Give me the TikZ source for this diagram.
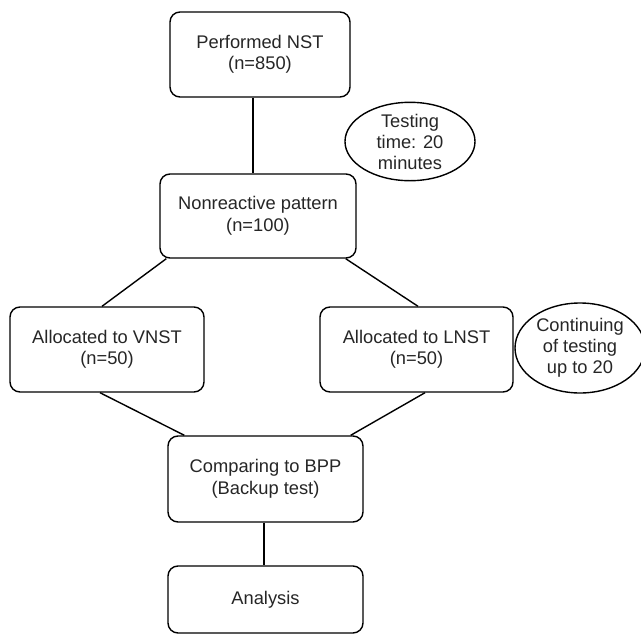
\documentclass[tikz,border=0pt]{standalone}
\usepackage{fontspec}
\setmainfont{Liberation Sans}
\usetikzlibrary{shapes.geometric}
\begin{document}
\begin{tikzpicture}[x=1pt,y=-1pt,
  stepbox/.style={draw=black, line width=1.4pt, rounded corners=10pt, align=center, inner sep=0pt, text=black!85,
    font=\fontsize{18.3}{21.5}\selectfont},
  noteell/.style={draw=black, line width=1.4pt, ellipse, align=center, inner sep=0pt, text=black!85,
    font=\fontsize{18.3}{21}\selectfont},
  conn/.style={line width=1.4pt, draw=black}]
\useasboundingbox (0,0) rectangle (641,635);
\fill[white] (0,0) rectangle (641,635);
\node[stepbox, minimum width=180pt, minimum height=85pt] (b1) at (260,54.5) {Performed NST\\(n=850)};
\node[stepbox, minimum width=196pt, minimum height=84pt] (b2) at (258,216) {Nonreactive pattern\\(n=100)};
\node[stepbox, minimum width=194pt, minimum height=85pt] (b3) at (107,349.5) {Allocated to VNST\\(n=50)};
\node[stepbox, minimum width=193pt, minimum height=85pt] (b4) at (416.5,349.5) {Allocated to LNST\\(n=50)};
\node[stepbox, minimum width=195pt, minimum height=86pt] (b5) at (265.5,479) {Comparing to BPP\\(Backup test)};
\node[stepbox, minimum width=195pt, minimum height=67pt] (b6) at (265.5,599.5) {Analysis};
\node[noteell, minimum width=130pt, minimum height=77pt] (e1) at (410,141.5) {Testing\\time: 20\\minutes};
\node[noteell, minimum width=130pt, minimum height=90pt] (e2) at (580,348) {Continuing\\of testing\\up to 20};
\draw[conn] ([xshift=-7pt]b1.south) -- ([xshift=-5pt]b2.north);
\draw[conn] ([xshift=7pt]b2.south west) -- ([xshift=-5pt]b3.north);
\draw[conn] ([xshift=-11pt]b2.south east) -- ([xshift=1.5pt]b4.north);
\draw[conn] ([xshift=-7pt]b3.south) -- ([xshift=17pt]b5.north west);
\draw[conn] ([xshift=8.5pt]b4.south) -- ([xshift=-13pt]b5.north east);
\draw[conn] ([xshift=-1.5pt]b5.south) -- ([xshift=-1.5pt]b6.north);
\end{tikzpicture}
\end{document}
